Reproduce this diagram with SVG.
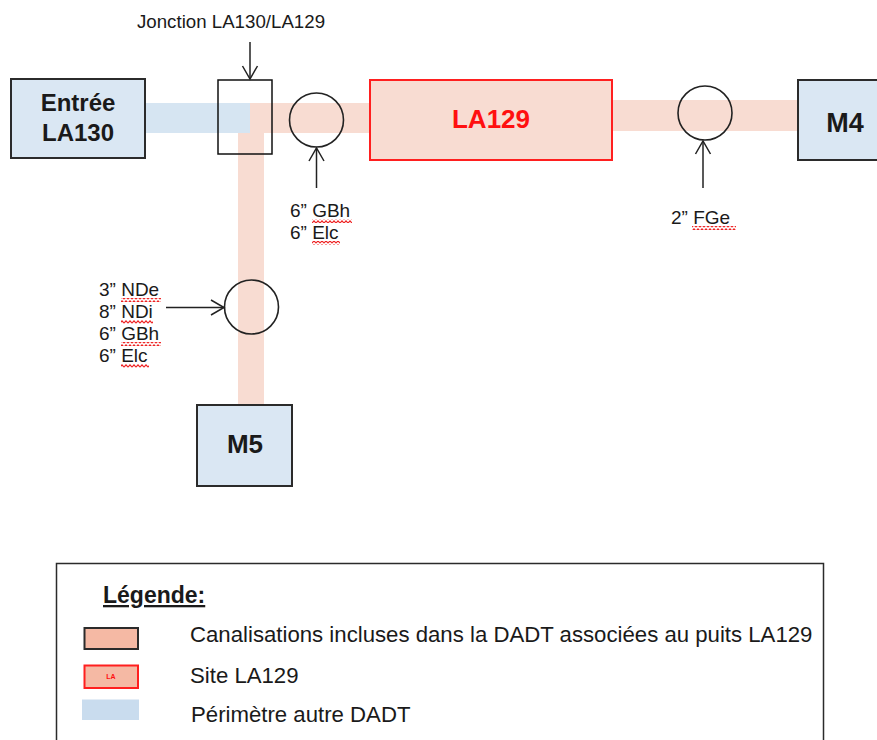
<svg xmlns="http://www.w3.org/2000/svg" width="877" height="740" viewBox="0 0 877 740">
  <style>
    text { font-family: "Liberation Sans", Arial, sans-serif; fill: #1a1a1a; }
    .bold { font-weight: bold; }
    .box { fill: #dae7f3; stroke: #2b2b2b; stroke-width: 2; }
    .site { fill: #f8dcd2; stroke: #ff1f1f; stroke-width: 2; }
    .pipe { fill: #f8dcd2; }
    .other { fill: #d6e5f2; }
    .valve { fill: none; stroke: #222; stroke-width: 1.6; }
    .lead { stroke: #222; stroke-width: 1.5; fill: none; marker-end: url(#open); }
    .lbl { font-size: 19px; }
    .spell { fill: url(#squiggle); }
  </style>
  <defs>
    <marker id="open" viewBox="-14 -9 16 18" markerWidth="16" markerHeight="18" refX="0" refY="0" orient="auto" markerUnits="userSpaceOnUse">
      <path d="M-13,-7.5 L0,0 L-13,7.5" fill="none" stroke="#222" stroke-width="1.5"/>
    </marker>
    <pattern id="squiggle" width="4" height="4" patternUnits="userSpaceOnUse">
      <path d="M0,3.2 L2,0.8 L4,3.2" fill="none" stroke="#ee2222" stroke-width="1.1"/>
    </pattern>
  </defs>

  <!-- pipeline corridors -->
  <g id="corridors">
    <rect class="other" x="145" y="103" width="105" height="30"/>
    <rect class="pipe" x="250" y="103" width="120" height="30"/>
    <rect class="pipe" x="238" y="133" width="26" height="272"/>
    <rect class="pipe" x="612" y="100" width="186" height="31"/>
  </g>

  <g id="entree-la130">
    <rect class="box" x="11" y="79" width="134" height="79"/>
    <text class="bold" x="78" y="111" font-size="24" text-anchor="middle">Entrée</text>
    <text class="bold" x="78" y="141" font-size="24" text-anchor="middle">LA130</text>
  </g>

  <g id="jonction">
    <rect x="218" y="80" width="54" height="74" fill="none" stroke="#111" stroke-width="1.5"/>
    <text x="231" y="28" font-size="18.7" text-anchor="middle">Jonction LA130/LA129</text>
  </g>

  <g id="la129">
    <rect class="site" x="370" y="80" width="242" height="80"/>
    <text class="bold" x="491" y="128" font-size="26" text-anchor="middle" style="fill:#ff1010">LA129</text>
  </g>

  <g id="m4">
    <rect class="box" x="798" y="80" width="100" height="80"/>
    <text class="bold" x="845" y="132" font-size="27" text-anchor="middle">M4</text>
  </g>

  <g id="m5">
    <rect class="box" x="197" y="405" width="95" height="81"/>
    <text class="bold" x="245" y="453" font-size="26" text-anchor="middle">M5</text>
  </g>

  <g id="vanne-gbh">
    <circle class="valve" cx="316.5" cy="120" r="27"/>
    <text class="lbl" x="290" y="217">6” GBh</text>
    <text class="lbl" x="290" y="239">6” Elc</text>
    <rect class="spell" x="312" y="219" width="40" height="4"/>
    <rect class="spell" x="312" y="241" width="28" height="4"/>
  </g>

  <g id="vanne-fge">
    <circle class="valve" cx="705" cy="113" r="27"/>
    <text class="lbl" x="671" y="224">2” FGe</text>
    <rect class="spell" x="692" y="226" width="44" height="4"/>
  </g>

  <g id="vanne-m5">
    <circle class="valve" cx="251.5" cy="307" r="27"/>
    <text class="lbl" x="99" y="296">3” NDe</text>
    <text class="lbl" x="99" y="318">8” NDi</text>
    <text class="lbl" x="99" y="340">6” GBh</text>
    <text class="lbl" x="99" y="362">6” Elc</text>
    <rect class="spell" x="121" y="298" width="40" height="4"/>
    <rect class="spell" x="121" y="320" width="32" height="4"/>
    <rect class="spell" x="121" y="342" width="40" height="4"/>
    <rect class="spell" x="121" y="364" width="28" height="4"/>
  </g>

  <!-- leader arrows -->
  <g id="connectors">
    <line class="lead" x1="250" y1="42" x2="250" y2="79"/>
    <line class="lead" x1="316.5" y1="188" x2="316.5" y2="148"/>
    <line class="lead" x1="703" y1="188" x2="703" y2="141"/>
    <line class="lead" x1="166" y1="307.5" x2="224" y2="307.5"/>
  </g>

  <g id="legende">
    <rect x="56.5" y="563.5" width="767" height="200" fill="none" stroke="#2b2b2b" stroke-width="1.5"/>
    <text class="bold" x="103" y="603" font-size="23" text-decoration="underline">Légende:</text>
    <rect x="84.5" y="628" width="53.5" height="21" fill="#f5b9a4" stroke="#2b2b2b" stroke-width="2"/>
    <rect x="84.5" y="665.5" width="53.5" height="22.5" fill="#f5b9a4" stroke="#ff1f1f" stroke-width="2"/>
    <text class="bold" x="111" y="679" font-size="7" text-anchor="middle" style="fill:#ff1010">LA</text>
    <rect x="82" y="699.5" width="57" height="20.5" fill="#c9dcee"/>
    <text x="190" y="642" font-size="22.2">Canalisations incluses dans la DADT associées au puits LA129</text>
    <text x="190" y="683" font-size="22.2">Site LA129</text>
    <text x="191" y="722" font-size="22.2">Périmètre autre DADT</text>
  </g>
</svg>
